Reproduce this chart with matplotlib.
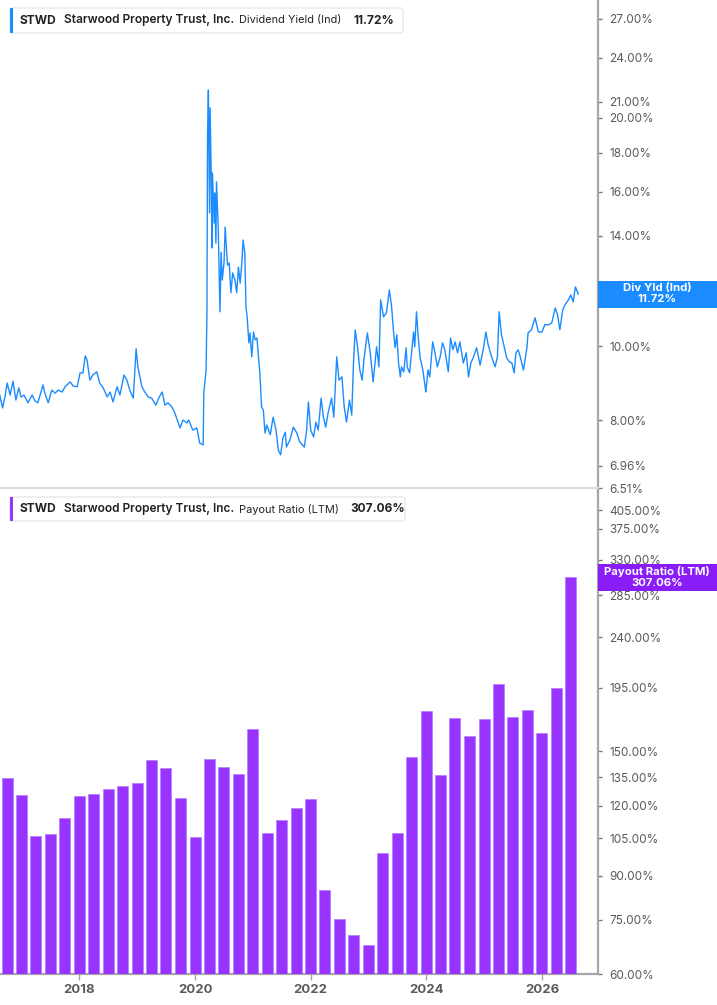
import numpy as np
import pandas as pd
import matplotlib
matplotlib.use("Agg")
import matplotlib.pyplot as plt
from matplotlib.patches import Rectangle, FancyBboxPatch
from matplotlib.ticker import FixedLocator, NullLocator, FuncFormatter

plt.rcParams['font.family'] = ['Inter', 'DejaVu Sans']

# dividend yield (Ind), decimal years / percent
yield_dates = [
    2016.62, 2016.67, 2016.71, 2016.75, 2016.80, 2016.85, 2016.90, 2016.95, 2016.99, 2017.04,
    2017.11, 2017.18, 2017.23, 2017.28, 2017.37, 2017.40, 2017.46, 2017.52, 2017.58, 2017.63,
    2017.70, 2017.75, 2017.84, 2017.89, 2017.96, 2018.01, 2018.06, 2018.10, 2018.13, 2018.18,
    2018.23, 2018.30, 2018.35, 2018.41, 2018.48, 2018.53, 2018.58, 2018.65, 2018.70, 2018.77,
    2018.82, 2018.87, 2018.93, 2018.98, 2019.01, 2019.08, 2019.13, 2019.19, 2019.25, 2019.32,
    2019.38, 2019.43, 2019.48, 2019.53, 2019.60, 2019.65, 2019.74, 2019.79, 2019.86, 2019.89,
    2019.96, 2020.03, 2020.08, 2020.14, 2020.15, 2020.19, 2020.205, 2020.215, 2020.23, 2020.25,
    2020.26, 2020.28, 2020.29, 2020.30, 2020.33, 2020.34, 2020.36, 2020.37, 2020.40, 2020.43,
    2020.45, 2020.47, 2020.50, 2020.52, 2020.56, 2020.59, 2020.62, 2020.65, 2020.69, 2020.72,
    2020.75, 2020.78, 2020.81, 2020.83, 2020.86, 2020.88, 2020.90, 2020.93, 2020.95, 2020.98,
    2021.01, 2021.04, 2021.07, 2021.09, 2021.12, 2021.15, 2021.18, 2021.21, 2021.24, 2021.30,
    2021.35, 2021.40, 2021.44, 2021.48, 2021.52, 2021.56, 2021.58, 2021.64, 2021.70, 2021.76,
    2021.81, 2021.89, 2021.93, 2021.96, 2022.00, 2022.05, 2022.09, 2022.13, 2022.18, 2022.22,
    2022.26, 2022.30, 2022.36, 2022.40, 2022.45, 2022.49, 2022.54, 2022.58, 2022.62, 2022.67,
    2022.71, 2022.74, 2022.77, 2022.81, 2022.85, 2022.89, 2022.92, 2022.98, 2023.03, 2023.08,
    2023.14, 2023.18, 2023.21, 2023.26, 2023.31, 2023.36, 2023.40, 2023.43, 2023.46, 2023.49,
    2023.52, 2023.55, 2023.57, 2023.61, 2023.65, 2023.67, 2023.71, 2023.75, 2023.78, 2023.80,
    2023.83, 2023.86, 2023.89, 2023.94, 2023.98, 2023.99, 2024.03, 2024.06, 2024.11, 2024.15,
    2024.19, 2024.24, 2024.28, 2024.32, 2024.38, 2024.42, 2024.46, 2024.50, 2024.54, 2024.58,
    2024.64, 2024.69, 2024.73, 2024.77, 2024.81, 2024.87, 2024.93, 2024.99, 2025.03, 2025.07,
    2025.13, 2025.19, 2025.23, 2025.26, 2025.30, 2025.34, 2025.39, 2025.44, 2025.48, 2025.52,
    2025.55, 2025.59, 2025.63, 2025.68, 2025.74, 2025.76, 2025.82, 2025.88, 2025.94, 2026.00,
    2026.05, 2026.11, 2026.17, 2026.23, 2026.27, 2026.31, 2026.36, 2026.40, 2026.46, 2026.50,
    2026.54, 2026.58, 2026.63,
]
yield_vals = [
    8.63, 8.30, 8.58, 8.95, 8.63, 9.00, 8.50, 8.82, 8.58, 8.63,
    8.43, 8.63, 8.48, 8.43, 8.90, 8.68, 8.43, 8.76, 8.68, 8.76,
    8.71, 8.85, 8.98, 8.87, 8.85, 9.23, 9.23, 9.72, 9.60, 9.03,
    9.17, 9.26, 8.95, 8.82, 8.58, 8.71, 8.45, 8.85, 8.63, 9.17,
    9.03, 8.76, 8.55, 9.93, 9.40, 8.85, 8.71, 8.58, 8.55, 8.37,
    8.58, 8.71, 8.37, 8.43, 8.32, 8.17, 7.81, 8.00, 7.93, 8.00,
    7.76, 7.81, 7.46, 7.42, 8.68, 9.31, 11.07, 18.90, 21.76, 14.99,
    20.62, 16.57, 13.48, 16.93, 14.54, 15.93, 13.68, 16.47, 14.37, 11.11,
    13.31, 12.23, 12.88, 14.37, 12.80, 12.88, 11.77, 12.50, 12.23, 11.77,
    12.72, 12.12, 12.92, 13.81, 13.27, 11.28, 10.94, 10.11, 10.42, 9.69,
    10.45, 10.20, 10.26, 9.84, 9.23, 8.32, 8.25, 7.69, 7.88, 7.65,
    8.07, 7.76, 7.30, 7.20, 7.58, 7.71, 7.37, 7.53, 7.83, 7.69,
    7.49, 7.37, 7.76, 8.45, 7.76, 7.60, 7.95, 7.76, 8.55, 8.07,
    7.83, 8.17, 8.55, 8.07, 9.69, 9.03, 9.12, 8.32, 7.95, 8.50,
    8.12, 9.51, 10.52, 9.99, 9.31, 9.03, 9.60, 10.42, 9.81, 8.98,
    9.99, 9.40, 11.52, 10.94, 11.07, 11.87, 11.28, 10.52, 9.96, 10.36,
    9.51, 9.12, 9.40, 9.26, 9.96, 9.40, 9.23, 9.90, 10.45, 9.99,
    11.11, 10.29, 9.69, 9.31, 8.85, 8.71, 9.31, 9.12, 10.14, 9.81,
    9.40, 9.69, 10.11, 9.90, 9.26, 10.26, 9.90, 10.14, 9.81, 10.14,
    9.51, 9.81, 9.12, 9.51, 9.66, 9.96, 9.45, 9.96, 10.45, 10.05,
    9.69, 9.40, 9.69, 11.11, 10.36, 10.05, 9.66, 9.54, 9.51, 9.23,
    9.81, 9.90, 9.66, 9.31, 9.96, 10.42, 10.52, 10.91, 10.45, 10.45,
    10.68, 10.68, 10.74, 11.24, 11.01, 10.52, 11.17, 11.35, 11.52, 11.69,
    11.45, 11.98, 11.72,
]

# payout ratio (LTM), quarterly
payout_quarters = [
    "2016Q3", "2016Q4", "2017Q1", "2017Q2", "2017Q3", "2017Q4", "2018Q1", "2018Q2",
    "2018Q3", "2018Q4", "2019Q1", "2019Q2", "2019Q3", "2019Q4", "2020Q1", "2020Q2",
    "2020Q3", "2020Q4", "2021Q1", "2021Q2", "2021Q3", "2021Q4", "2022Q1", "2022Q2",
    "2022Q3", "2022Q4", "2023Q1", "2023Q2", "2023Q3", "2023Q4", "2024Q1", "2024Q2",
    "2024Q3", "2024Q4", "2025Q1", "2025Q2", "2025Q3", "2025Q4", "2026Q1", "2026Q2",
]
payout_vals = [
    134.4, 125.2, 105.9, 106.9, 113.9, 124.8, 125.8, 128.6, 130.1, 131.9,
    144.6, 140.1, 124.0, 105.3, 145.2, 140.4, 136.8, 164.2, 107.3, 112.9,
    119.0, 123.1, 84.9, 75.2, 70.4, 67.5, 98.9, 107.2, 146.3, 176.8,
    136.3, 172.3, 159.6, 171.6, 197.6, 173.0, 177.6, 162.0, 194.4, 307.06,
]

yield_ticks = [6.51, 6.96, 8, 10, 12, 14, 16, 18, 20, 21, 24, 27]
payout_ticks = [60, 75, 90, 105, 120, 135, 150, 195, 240, 285, 330, 375, 405]
year_ticks = [2018, 2020, 2022, 2024, 2026]

BLUE = "#1a8cff"
PURPLE = "#9933ff"
PURPLE_LBL = "#8a1cf7"
GRID = "#a6a6a6"
TXT = "#5a5a5a"

# quarter ends -> decimal years
qend = pd.PeriodIndex(payout_quarters, freq="Q").end_time
bar_x = np.array([d.year + (d.dayofyear - 0.5) / (366 if d.is_leap_year else 365) for d in qend])

W, H = 717, 1005
fig = plt.figure(figsize=(W / 100, H / 100), dpi=100)
px = lambda x: x / W
py = lambda y: 1 - y / H

right = px(598)
ax1 = fig.add_axes([0, py(488), right, py(0) - py(488)])
ax2 = fig.add_axes([0, py(974), right, py(490) - py(974)], sharex=ax1)

ax1.plot(yield_dates, yield_vals, color=BLUE, lw=1.0, zorder=3)
ax1.set_yscale("log")
ax1.set_ylim(6.51, 28.6)

ax2.bar(bar_x, np.array(payout_vals) - 60, bottom=60, width=0.19, color=PURPLE,
        edgecolor="#b57aff", linewidth=0.5, zorder=3)
ax2.set_yscale("log")
ax2.set_ylim(60, 440)
ax2.set_xlim(2016.625, 2026.97)

fmt = FuncFormatter(lambda v, p: f"{v:.2f}%")
for ax, ticks in ((ax1, yield_ticks), (ax2, payout_ticks)):
    ax.yaxis.set_major_locator(FixedLocator(ticks))
    ax.yaxis.set_minor_locator(NullLocator())
    ax.yaxis.set_major_formatter(fmt)
    ax.yaxis.tick_right()
    ax.tick_params(axis="y", direction="out", length=3, width=1, color="#777777",
                   labelcolor=TXT, labelsize=8.5, pad=5)
    for s in ("left", "top"):
        ax.spines[s].set_visible(False)
    ax.spines["right"].set_color(GRID)
    ax.spines["right"].set_linewidth(1.6)
    ax.set_facecolor("none")

ax1.spines["bottom"].set_color("#dddddd")
ax1.spines["bottom"].set_linewidth(1.6)
ax1.tick_params(axis="x", length=0, labelbottom=False)

ax2.spines["bottom"].set_color(GRID)
ax2.spines["bottom"].set_linewidth(1.6)
ax2.xaxis.set_major_locator(FixedLocator(year_ticks))
ax2.xaxis.set_minor_locator(NullLocator())
ax2.xaxis.set_major_formatter(FuncFormatter(lambda v, p: f"{int(round(v))}"))
ax2.tick_params(axis="x", direction="out", length=4, width=1, color=GRID,
                labelcolor=TXT, labelsize=9.5, pad=3)
for lb in ax2.get_xticklabels():
    lb.set_fontweight("bold")


def value_tag(ax, val, line1, line2, color):
    yd = ax.transData.transform((0, val))[1]
    yf = fig.transFigure.inverted().transform((0, yd))[1]
    h = 27 / H
    fig.patches.append(Rectangle((right, yf - h / 2), 1 - right, h, transform=fig.transFigure,
                                 facecolor=color, edgecolor="none", zorder=5))
    fig.text(px(657), yf + 0.5 / H, f"{line1}\n{line2}", ha="center", va="center", color="white",
             fontsize=8.2, fontweight="bold", linespacing=1.1, zorder=6)


value_tag(ax1, yield_vals[-1], "Div Yld (Ind)", f"{yield_vals[-1]:.2f}%", BLUE)
value_tag(ax2, payout_vals[-1], "Payout Ratio (LTM)", f"{payout_vals[-1]:.2f}%", PURPLE_LBL)


def legend_box(y0, y1, x1, xval, color, metric, value):
    fig.patches.append(FancyBboxPatch((px(10), py(y1)), px(x1) - px(10), py(y0) - py(y1),
                                      boxstyle="round,pad=0,rounding_size=0.003",
                                      transform=fig.transFigure, facecolor="white",
                                      edgecolor="#e4e4e4", linewidth=0.8, zorder=5))
    fig.patches.append(Rectangle((px(10), py(y1)), px(3), py(y0) - py(y1),
                                 transform=fig.transFigure, facecolor=color, edgecolor="none", zorder=6))
    yc = py((y0 + y1) / 2)
    kw = dict(va="center", ha="left", color="#222222", zorder=7)
    fig.text(px(20), yc, "STWD", fontweight="bold", fontsize=8.6, **kw)
    fig.text(px(64), yc, "Starwood Property Trust, Inc.", fontweight="semibold", fontsize=8.6, **kw)
    fig.text(px(239), yc, metric, fontsize=7.9, **kw)
    fig.text(px(xval), yc, value, fontweight="bold", fontsize=8.6, **kw)


legend_box(8, 33, 403, 354, BLUE, "Dividend Yield (Ind)", f"{yield_vals[-1]:.2f}%")
legend_box(497, 521, 405, 350, PURPLE, "Payout Ratio (LTM)", f"{payout_vals[-1]:.2f}%")

fig.savefig("out.png", dpi=100, facecolor="white")
